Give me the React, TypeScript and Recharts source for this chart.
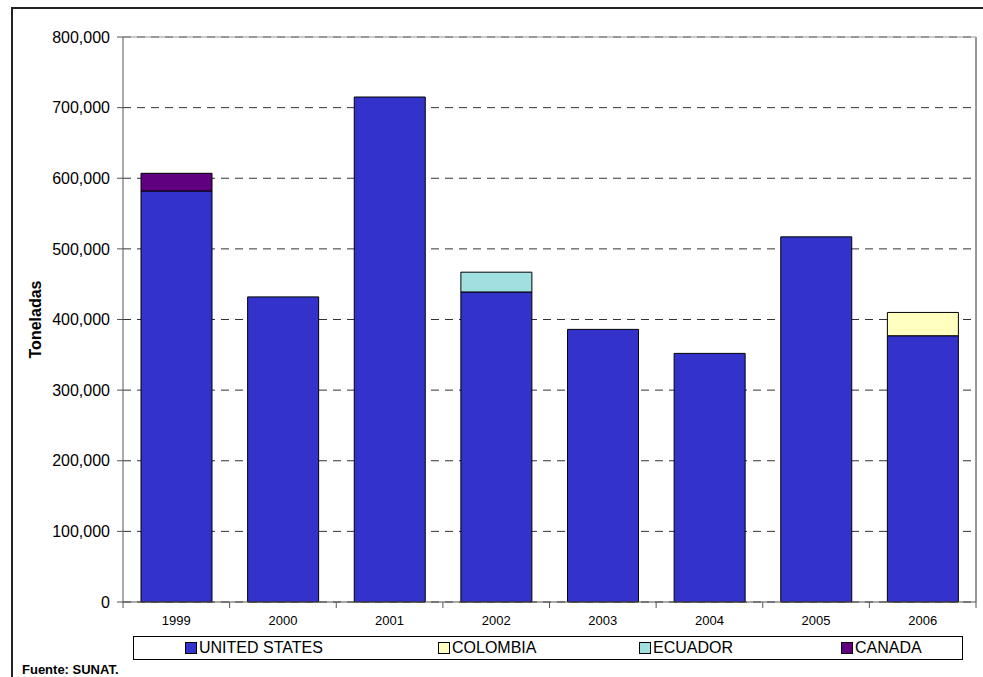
import React from "react";
import { BarChart, Bar, XAxis, YAxis, CartesianGrid, ReferenceLine } from "recharts";

const years = ["1999", "2000", "2001", "2002", "2003", "2004", "2005", "2006"];
const unitedStates = [582000, 432000, 715000, 439000, 386000, 352000, 517000, 377000];
const colombia = [0, 0, 0, 0, 0, 0, 0, 33000];
const ecuador = [0, 0, 0, 28000, 0, 0, 0, 0];
const canada = [25000, 0, 0, 0, 0, 0, 0, 0];
const yTicks = [0, 100000, 200000, 300000, 400000, 500000, 600000, 700000, 800000];

const series = [
  { key: "us", name: "UNITED STATES", color: "#3333CC" },
  { key: "co", name: "COLOMBIA", color: "#FFFFC0" },
  { key: "ec", name: "ECUADOR", color: "#A0E0E0" },
  { key: "ca", name: "CANADA", color: "#600080" },
];

const data = years.map((y, i) => ({
  year: y,
  us: unitedStates[i],
  co: colombia[i],
  ec: ecuador[i],
  ca: canada[i],
}));

const FONT = "'Liberation Sans', Arial, sans-serif";
const W = 983;
const H = 677;
const M = { top: 37, right: 7, left: 0, bottom: 45 };
const Y_W = 123;
const X_H = 30;
const PLOT_BOTTOM = H - M.bottom - X_H;
const BAND = (W - M.right - Y_W) / years.length;
// legend slot widths so the items sit where they do in the original
const LEGEND_SLOTS = [253, 201, 202, 120];

const XTick = (props: any) => {
  const { x, payload, index } = props;
  const left = x - BAND / 2;
  return (
    <g>
      <line x1={left} x2={left} y1={PLOT_BOTTOM} y2={PLOT_BOTTOM + 6} stroke="#555" />
      {index === years.length - 1 && (
        <line x1={x + BAND / 2} x2={x + BAND / 2} y1={PLOT_BOTTOM} y2={PLOT_BOTTOM + 6} stroke="#555" />
      )}
      <text x={x} y={PLOT_BOTTOM + 23} textAnchor="middle" fontSize={13} fill="#000" fontFamily={FONT}>
        {payload.value}
      </text>
    </g>
  );
};

export default function App() {
  return (
    <div style={{ position: "absolute", left: 0, top: 0, width: W, height: H, overflow: "hidden", background: "#fff", fontFamily: FONT }}>
      <div style={{ position: "absolute", left: 11, top: 7, width: W, height: H, borderTop: "2px solid #222", borderLeft: "2px solid #222" }} />
      <div style={{ position: "absolute", left: 0, top: 0 }}>
        <BarChart width={W} height={H} data={data} margin={M} barSize={71}>
          <CartesianGrid vertical={false} stroke="#333" strokeDasharray="8 6" />
          <XAxis
            dataKey="year"
            height={X_H}
            axisLine={{ stroke: "#555" }}
            tickLine={false}
            tick={<XTick />}
            interval={0}
          />
          <YAxis
            width={Y_W}
            domain={[0, 800000]}
            ticks={yTicks}
            tickFormatter={(v: number) => v.toLocaleString("en-US")}
            tick={{ fontSize: 16, fill: "#000", fontFamily: FONT }}
            tickSize={6}
            tickMargin={7}
            axisLine={{ stroke: "#555" }}
            tickLine={{ stroke: "#555" }}
            label={{
              value: "Toneladas",
              angle: -90,
              position: "insideLeft",
              dx: 30,
              style: { fontSize: 16, fontWeight: "bold", fill: "#000", fontFamily: FONT, textAnchor: "middle" },
            }}
          />
          <ReferenceLine y={800000} stroke="#999" />
          <ReferenceLine x="2006" position="end" stroke="#999" strokeWidth={2} />
          {series.map((s) => (
            <Bar key={s.key} dataKey={s.key} name={s.name} stackId="a" fill={s.color} stroke="#000" strokeWidth={1} isAnimationActive={false} />
          ))}
        </BarChart>
      </div>
      <div
        style={{
          position: "absolute",
          left: 133,
          top: 636,
          width: 830,
          height: 24,
          boxSizing: "border-box",
          border: "1px solid #000",
          display: "flex",
          alignItems: "center",
          paddingLeft: 51,
          fontSize: 16,
        }}
      >
        {series.map((s, i) => (
          <div key={s.key} style={{ display: "flex", alignItems: "center", width: LEGEND_SLOTS[i] }}>
            <span style={{ display: "inline-block", width: 10, height: 10, background: s.color, border: "1px solid #000", marginRight: 2 }} />
            <span>{s.name}</span>
          </div>
        ))}
      </div>
      <div style={{ position: "absolute", left: 22, top: 662, fontSize: 13, fontWeight: "bold" }}>Fuente: SUNAT.</div>
    </div>
  );
}
